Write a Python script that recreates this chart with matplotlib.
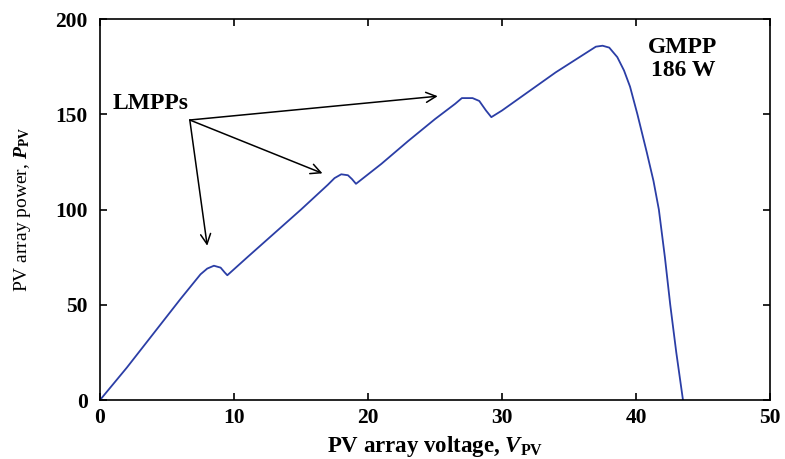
import numpy as np
import matplotlib
matplotlib.use('Agg')
import matplotlib.pyplot as plt

plt.rcParams['font.family'] = ['Liberation Serif', 'DejaVu Serif']
plt.rcParams['font.weight'] = 'bold'
plt.rcParams['mathtext.fontset'] = 'custom'
plt.rcParams['mathtext.rm'] = 'Liberation Serif:bold'
plt.rcParams['mathtext.it'] = 'Liberation Serif:italic:bold'

# P-V curve
voltage = [0, 2, 4, 6, 7.5, 8.0, 8.5, 9.0, 9.3, 9.5, 11, 13, 15, 17, 17.5, 18.0, 18.5, 18.8, 19.1,
           21, 23, 25, 26.5, 27.0, 27.8, 28.3, 28.8, 29.2, 30, 32, 34, 36, 37.0, 37.5, 38.0, 38.6,
           39.1, 39.55, 40.1, 40.8, 41.3, 41.7, 42.15, 42.55, 43.0, 43.5]
power = [0, 17, 35, 53, 66, 69, 70.5, 69.5, 67, 65.5, 75, 87.5, 100, 113, 116.5, 118.5, 118, 116, 113.5,
         124, 136, 147.5, 155.5, 158.5, 158.5, 157, 152, 148.5, 152, 162, 172, 181, 185.5, 186, 185, 180,
         173, 164.5, 150, 130, 115, 100, 75, 50, 25, 0]

lmpp_label = 'LMPPs'
lmpp_origin = (6.7, 147)
lmpp_targets = [(8.0, 81), (16.6, 119), (25.2, 159.5)]

fig = plt.figure(figsize=(7.85, 4.59), dpi=100)
ax = fig.add_axes([0.1274, 0.1285, 0.8536, 0.83])

ax.plot(voltage, power, color='#2b3ea6', linewidth=1.3)

ax.set_xlim(0, 50)
ax.set_ylim(0, 200)
ax.set_xticks([0, 10, 20, 30, 40, 50])
ax.set_yticks([0, 50, 100, 150, 200])
ax.tick_params(direction='in', top=True, right=True, length=5, width=1.2, labelsize=15.5)
ax.tick_params(axis='y', pad=9)
ax.tick_params(axis='x', pad=6)
for s in ax.spines.values():
    s.set_linewidth(1.2)

ax.set_xlabel(r'PV array voltage, $\mathit{V}_{\mathrm{PV}}$', fontsize=16.5, fontweight='bold', labelpad=4)
ax.set_ylabel(r'PV array power, $\mathit{P}_{\mathrm{PV}}$', fontsize=14, fontweight='normal', labelpad=16)

ax.text(3.8, 155.5, lmpp_label, fontsize=17, ha='center', va='center')
for tx, ty in lmpp_targets:
    ax.annotate('', xy=(tx, ty), xytext=lmpp_origin,
                arrowprops=dict(arrowstyle='->', color='black', lw=1.1, mutation_scale=18,
                                shrinkA=0, shrinkB=0))

ax.text(43.5, 179, 'GMPP\n186 W', fontsize=17, ha='center', va='center', linespacing=1.1)

fig.savefig('out.png', dpi=100)
